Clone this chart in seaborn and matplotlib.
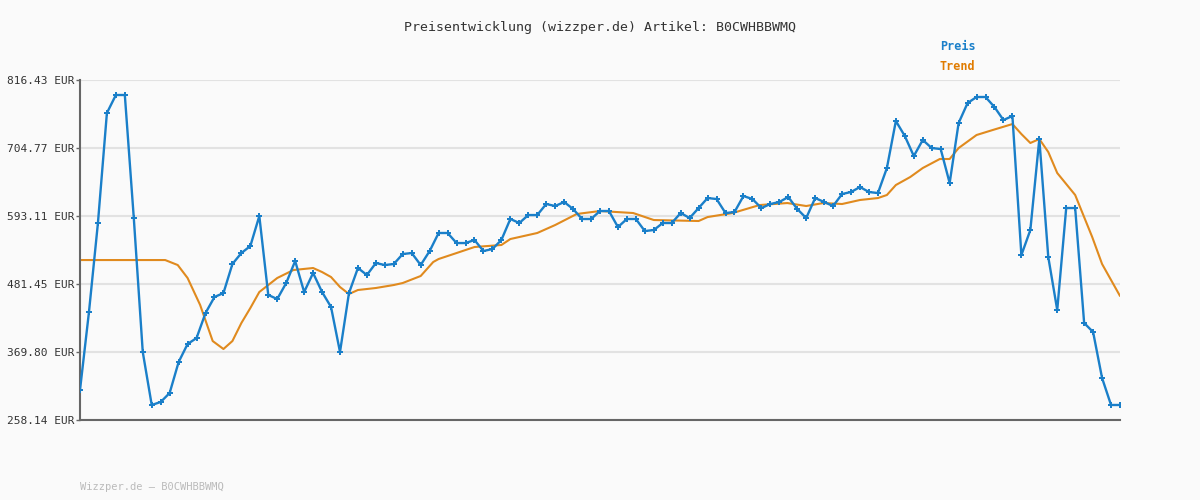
import matplotlib
matplotlib.use("Agg")
import matplotlib.pyplot as plt
import seaborn as sns
import pandas as pd

price = [307.4,435.5,581.6,762.2,791.8,791.8,589.8,369.8,282.8,287.7,302.5,353.3,382.9,392.7,433.8,460.1,466.6,514.3,532.3,543.8,
593.1,463.4,456.8,483.1,519.2,468.3,499.5,468.3,443.7,369.8,466.6,507.7,496.2,515.9,512.6,514.3,530.7,532.3,512.6,
535.6,565.2,565.2,548.7,548.7,553.7,535.6,538.9,553.7,588.2,581.6,594.7,594.7,612.8,609.5,616.1,604.6,588.2,588.2,601.3,
601.3,575.0,588.2,588.2,568.4,570.1,581.6,581.6,598.0,589.8,606.2,622.6,621.0,598.0,599.6,625.9,621.0,606.2,612.8,
616.1,624.3,604.6,589.8,622.6,616.1,609.5,629.2,632.5,640.7,632.5,630.8,671.9,749.1,724.4,691.6,717.9,704.7,703.1,647.3,
745.8,778.6,788.5,788.5,772.0,750.7,757.3,529.0,570.1,719.5,525.7,438.7,606.2,606.2,417.4,402.6,327.1,282.8,282.8]

trend_idx = [0,9.5,10.9,12,13.4,14.8,16,17,18,19,20,21,22,23.8,26,27,28,29,30,31,33,35,36,38,39.4,40,42,44,47,48,51,53,55.4,58,
61.7,64,69,70,72.8,75.8,78.9,81,82.9,85,87,89,90,91,92.6,94,95.9,97,98,100,101.8,104,105,106,107,108,109,111,112.9,114,116]
trend_val = [520.8,520.8,512.6,491.3,447.0,387.8,374.7,387.8,417.4,442.0,468.3,479.8,491.3,504.4,507.7,501.1,492.9,476.5,465.0,471.6,
474.9,479.8,483.1,494.6,517.6,522.5,532.3,542.2,545.5,555.3,565.2,578.3,596.4,601.3,598.0,586.5,584.9,591.4,598.0,611.1,614.4,
609.5,614.4,612.8,619.4,622.6,627.6,644.0,657.1,671.9,686.7,686.7,704.7,726.1,734.3,744.1,727.7,713.0,719.5,698.2,663.7,627.6,
558.6,514.3,461.8]

yticks = [258.14, 369.80, 481.45, 593.11, 704.77, 816.43]

sns.set_theme(style="white")
plt.rcParams['font.family'] = ['DejaVu Sans Mono']
fig = plt.figure(figsize=(12, 5), dpi=100, facecolor="#fafafa")
ax = fig.add_axes([80/1200, 80/500, 1040/1200, 340/500])
ax.set_facecolor("#fafafa")

dp = pd.DataFrame({"i": range(len(price)), "v": price})
dt = pd.DataFrame({"i": trend_idx, "v": trend_val})
sns.lineplot(data=dt, x="i", y="v", ax=ax, color="#e08a1e", lw=1.5, zorder=2)
sns.lineplot(data=dp, x="i", y="v", ax=ax, color="#1a7fc9", lw=1.7, marker="P", markersize=4,
             markeredgewidth=0, zorder=3)

ax.set_xlim(0, len(price) - 1)
ax.set_ylim(yticks[0], yticks[-1])
ax.set_yticks(yticks)
ax.set_yticklabels([f"{t:.2f} EUR" for t in yticks], fontsize=8, color="#333333")
ax.set_xticks([])
ax.set_xlabel("")
ax.set_ylabel("")
ax.grid(axis="y", color="#e2e2e2", lw=1.5)
ax.tick_params(axis="y", length=3, width=1, color="#666666", pad=1, left=True)
for s in ["top", "right"]:
    ax.spines[s].set_visible(False)
for s in ["left", "bottom"]:
    ax.spines[s].set_color("#666666")
    ax.spines[s].set_linewidth(1.5)

fig.text(0.5, 1 - 28/500, "Preisentwicklung (wizzper.de) Artikel: B0CWHBBWMQ", ha="center", va="center",
         fontsize=9.5, color="#333333")
fig.text(940/1200, 1 - 47/500, "Preis", color="#1a7fc9", fontsize=8.5, fontweight="bold", va="center")
fig.text(940/1200, 1 - 67/500, "Trend", color="#e07b00", fontsize=8.5, fontweight="bold", va="center")
fig.text(80/1200, 1 - 487/500, "Wizzper.de – B0CWHBBWMQ", color="#bbbbbb", fontsize=7.5, va="center")

fig.savefig("out.png", dpi=100, facecolor="#fafafa")
